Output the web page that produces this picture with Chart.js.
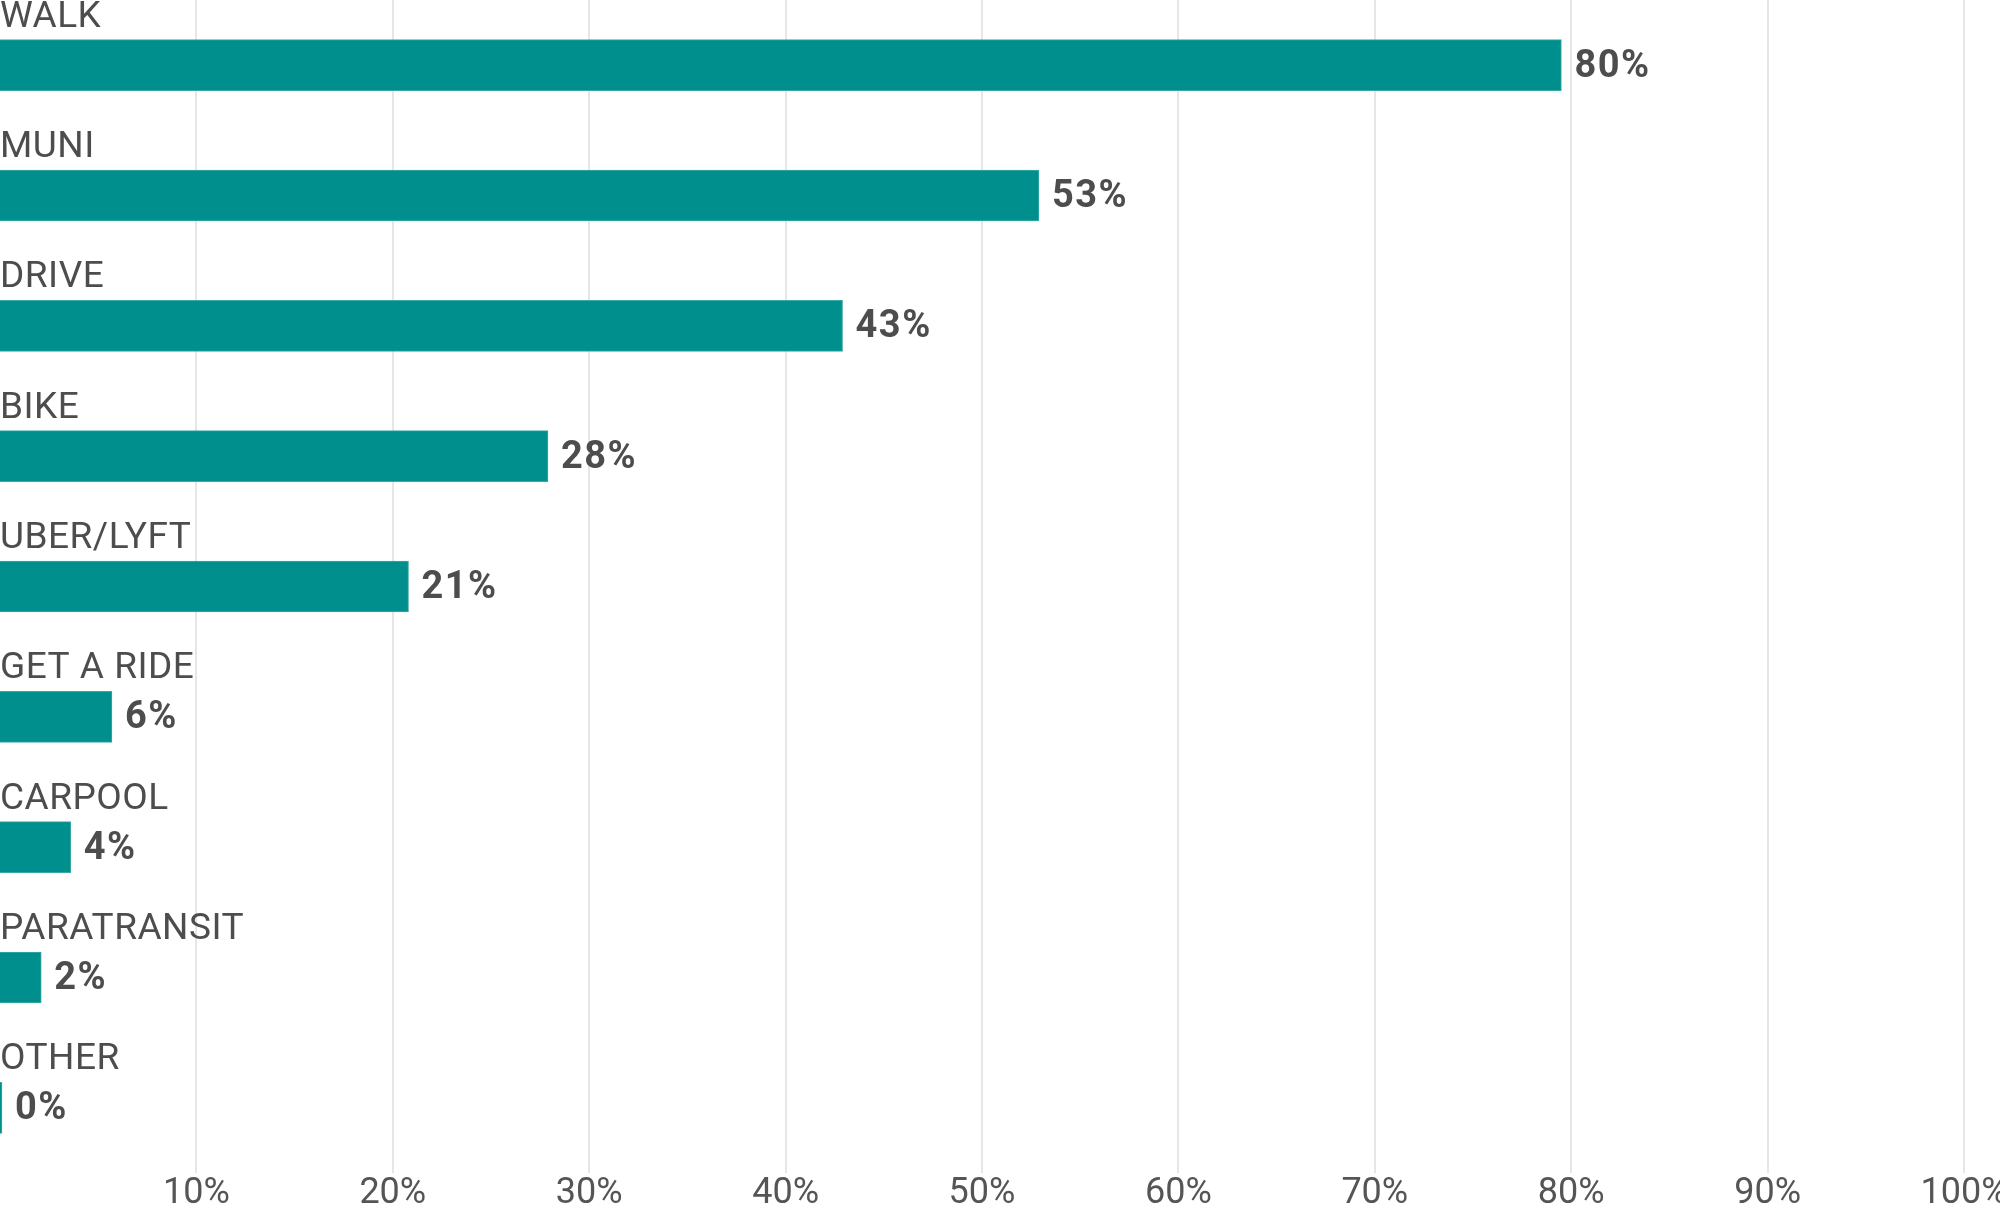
<!DOCTYPE html>
<html lang="en">
<head>
<meta charset="UTF-8">
<title>Travel modes</title>
<style>
  html, body { margin: 0; padding: 0; background: #fff; }
  #wrap { position: relative; width: 2000px; height: 1210px; }
</style>
</head>
<body>
<div id="wrap"><canvas id="myChart"></canvas></div>

<script src="https://cdn.jsdelivr.net/npm/chart.js"></script>
<script>
// data
const modes = ['WALK', 'MUNI', 'DRIVE', 'BIKE', 'UBER/LYFT', 'GET A RIDE', 'CARPOOL', 'PARATRANSIT', 'OTHER']
const shares = [79.5, 52.9, 42.9, 27.9, 20.8, 5.7, 3.6, 2.1, 0.1]
const xTicks = [10, 20, 30, 40, 50, 60, 70, 80, 90, 100]

const textColor = '#4d4d4d'

// category name above each bar, value to the right of it
const barText = {
    id: 'barText',
    afterDatasetsDraw(chart) {
        const ctx = chart.ctx
        const meta = chart.getDatasetMeta(0)
        ctx.save()
        ctx.fillStyle = textColor
        meta.data.forEach((bar, i) => {
            const top = bar.y - bar.height / 2
            ctx.font = '37px Roboto, "Liberation Sans", sans-serif'
            ctx.letterSpacing = '0.5px'
            ctx.textAlign = 'left'
            ctx.textBaseline = 'alphabetic'
            ctx.fillText(modes[i], chart.chartArea.left, top - 13)

            ctx.font = 'bold 38px Roboto, "Liberation Sans", sans-serif'
            ctx.letterSpacing = '1.5px'
            ctx.textBaseline = 'middle'
            ctx.fillText(Math.round(shares[i]) + '%', bar.x + 13, bar.y + 2)
        })
        ctx.restore()
    }
}

new Chart(document.getElementById('myChart'), {
    type: 'bar',
    data: {
        labels: modes,
        datasets: [{
            data: shares,
            backgroundColor: '#008f8c',
            borderColor: '#3aaaa7',
            borderWidth: 1,
            barThickness: 51
        }]
    },
    options: {
        indexAxis: 'y',
        responsive: true,
        maintainAspectRatio: false,
        animation: false,
        layout: { padding: 0 },
        plugins: {
            legend: { display: false },
            tooltip: { enabled: false }
        },
        scales: {
            x: {
                min: 0,
                max: 100,
                afterBuildTicks(axis) {
                    axis.ticks = xTicks.map(v => ({ value: v }))
                },
                afterFit(axis) {
                    axis.paddingLeft = 0
                    axis.paddingRight = 36
                    axis.height = 37
                },
                grid: { color: '#e6e6e6', lineWidth: 2, drawTicks: false },
                border: { display: false },
                ticks: {
                    color: '#555',
                    padding: 3,
                    font: { family: 'Roboto, "Liberation Sans", sans-serif', size: 36, weight: 'normal', lineHeight: 1 },
                    callback: v => v + '%'
                }
            },
            y: {
                display: false
            }
        }
    },
    plugins: [barText]
})
</script>
</body>
</html>
